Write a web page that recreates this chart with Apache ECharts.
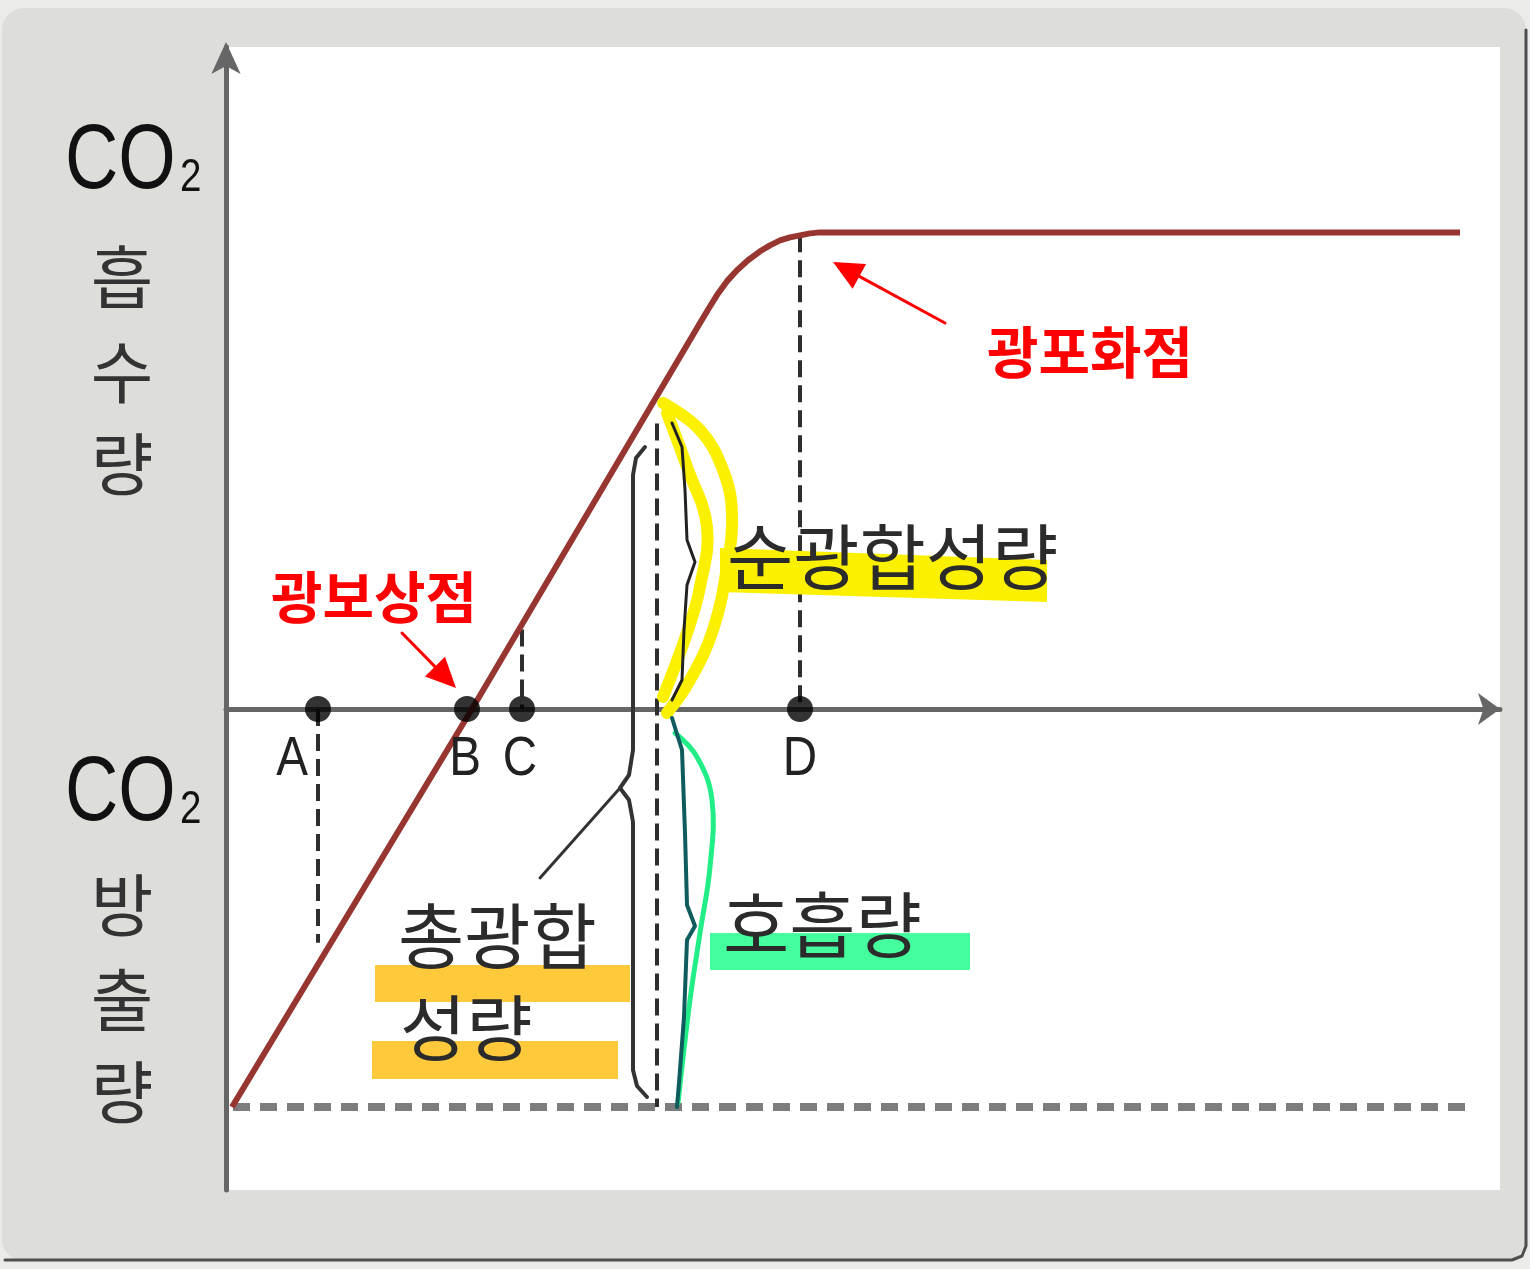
<!DOCTYPE html>
<html>
<head>
<meta charset="utf-8">
<script src="https://cdn.jsdelivr.net/npm/echarts@6/dist/echarts.min.js"></script>
<style>html,body{margin:0;padding:0;background:#ebebe8;}#c{width:1530px;height:1269px;}</style>
</head>
<body>
<div id="c"></div>
<script>
// ---- data (light intensity units vs CO2 exchange units) ----
const pointNames = ['A', 'B', 'C', 'D'];
const pointX = [9.2, 24.1, 29.6, 57.4];
const curveX = [0.6, 24.6, 47.4, 48.3, 49.1, 50.1, 51.1, 52.2, 53.4, 54.4, 55.4, 56.4, 57.4, 58.4, 59.4, 123.4];
const curveY = [-4.0, 0, 3.88, 4.03, 4.16, 4.30, 4.41, 4.51, 4.60, 4.66, 4.71, 4.74, 4.76, 4.78, 4.79, 4.79];
const respirationY = -4.0;
const respirationX = [0.7, 124.6];
const guideX = [9.2, 29.6, 57.4, 43.1];
const guideTop = [0, 0.8, 4.76, 2.87];
const guideBottom = [-2.35, 0, 0, -4.0];
const xRange = [0, 127.4];
const yRange = [-4.834, 6.653];

// ---- styling helpers ----
const labelDx = {A: -26, B: -2, C: -2, D: 0};
const G = [];
function rect(x, y, w, h, fill, z, r) {
  G.push({type: 'rect', z: z, shape: {x: x, y: y, width: w, height: h, r: r || 0}, style: {fill: fill}});
}
function poly(points, fill, z) {
  G.push({type: 'polygon', z: z, shape: {points: points}, style: {fill: fill}});
}
function line(points, stroke, width, z, smooth) {
  G.push({type: 'polyline', z: z, shape: {points: points, smooth: smooth || 0},
    style: {stroke: stroke, lineWidth: width, fill: null, lineCap: 'round', lineJoin: 'round'}});
}
function txt(x, y, text, size, opts) {
  opts = opts || {};
  G.push({type: 'text', x: x, y: y, z: opts.z || 30, scaleX: opts.scaleX || 1, style: {
    text: text, fontSize: size, fontFamily: opts.family || '"Noto Sans CJK KR"',
    fontWeight: opts.weight || 'normal', fill: opts.fill || '#2b2b2b',
    textAlign: opts.align || 'center', textVerticalAlign: 'middle'}});
}
function arrow(x1, y1, x2, y2, color) {
  const dx = x2 - x1, dy = y2 - y1, L = Math.hypot(dx, dy);
  const ux = dx / L, uy = dy / L, hl = 30, hw = 14;
  const bx = x2 - ux * hl, by = y2 - uy * hl;
  line([[x1, y1], [bx, by]], color, 3, 25);
  poly([[x2, y2], [bx + uy * hw, by - ux * hw], [bx - uy * hw, by + ux * hw]], color, 25);
}

// frame and plot background
rect(2, 8, 1524, 1253, '#dddeda', -10, 22);
line([[1526, 30], [1526, 1246], [1522, 1256], [1512, 1260], [5, 1260]], '#4f4f4f', 3, -9);
rect(226, 47, 1274, 1143, '#ffffff', -8);

// axis titles
const sans = '"Liberation Sans", Arial';
[[163, 178], [795, 810]].forEach(function (p) {
  txt(65, p[0], 'CO', 90, {family: sans, fill: '#111', align: 'left', scaleX: 0.82});
  txt(180, p[1], '2', 47, {family: sans, fill: '#111', align: 'left', scaleX: 0.82});
});
['흡', '수', '량'].forEach(function (ch, i) { txt(122, [277, 372, 464][i], ch, 68, {fill: '#333'}); });
['방', '출', '량'].forEach(function (ch, i) { txt(122, [905, 1000, 1092][i], ch, 68, {fill: '#333'}); });

// red annotations
txt(374, 597, '광보상점', 56, {weight: 'bold', fill: '#fe0000'});
arrow(402, 633, 456, 688, '#fe0000');
txt(1090, 352, '광포화점', 56, {weight: 'bold', fill: '#fe0000'});
arrow(945, 323, 833, 262, '#fe0000');

// highlights
poly([[720, 548], [1047, 560], [1047, 602], [720, 592]], '#fbf000', 12);
rect(710, 933, 260, 37, '#45ff9f', 12);
rect(375, 965, 255, 37, '#ffc93c', 12);
rect(372, 1041, 246, 38, '#ffc93c', 12);

// yellow brace (net photosynthesis)
line([[663, 403], [700, 430], [723, 470], [732, 513], [727, 567], [713, 630], [690, 680], [667, 713]], '#fbf000', 12, 11, 0.4);
line([[667, 413], [687, 467], [707, 527], [700, 587], [687, 633], [663, 697]], '#fbf000', 12, 11, 0.4);
line([[672, 423], [682, 447], [685, 490], [687, 540], [695, 562], [687, 585], [684, 630], [682, 680], [672, 700]], '#222', 3, 13);

// green brace (respiration)
line([[675, 733], [697, 757], [712, 800], [710, 867], [700, 933], [690, 1000], [678, 1103]], '#22ee88', 5, 11, 0.4);
line([[672, 718], [682, 750], [685, 833], [687, 905], [695, 926], [687, 940], [684, 1017], [679, 1083], [677, 1107]], '#0f5c5e', 4, 13);

// big brace (gross photosynthesis)
line([[645, 447], [636, 458], [633, 475], [633, 750], [629, 775], [620, 788], [629, 800], [633, 822], [633, 1070], [637, 1086], [647, 1097]], '#333', 4, 13);
line([[620, 788], [540, 878]], '#333', 3, 13);

// body labels
txt(727, 557, '순광합성량', 72, {align: 'left'});
txt(723, 925, '호흡량', 72, {align: 'left'});
txt(398, 936, '총광합', 72, {align: 'left'});
txt(400, 1028, '성량', 72, {align: 'left'});

// ---- series ----
const series = [];
series.push({
  type: 'line', z: 5, showSymbol: false, smooth: false,
  data: curveX.map(function (x, i) { return [x, curveY[i]]; }),
  lineStyle: {color: '#973630', width: 6, join: 'round'}
});
guideX.forEach(function (gx, i) {
  series.push({
    type: 'line', z: 3, showSymbol: false,
    data: [[gx, guideTop[i]], [gx, guideBottom[i]]],
    lineStyle: {color: '#2e2e2e', width: 4, type: [17, 8]}
  });
});
series.push({
  type: 'line', z: 3, showSymbol: false,
  data: respirationX.map(function (x) { return [x, respirationY]; }),
  lineStyle: {color: '#7d7d7d', width: 8, type: [17, 10]}
});
series.push({
  type: 'scatter', z: 6, symbolSize: 26,
  itemStyle: {color: '#000'},
  data: pointX.map(function (x, i) { return {value: [x, 0], name: pointNames[i]}; })
});

const baseOption = {
  animation: false,
  backgroundColor: '#ebebe8',
  grid: {left: 226, right: 30, top: 47, bottom: 79},
  xAxis: {
    type: 'value', min: xRange[0], max: xRange[1],
    axisLine: {onZero: true, lineStyle: {color: '#666', width: 5},
      symbol: ['none', 'arrow'], symbolSize: [24, 22], symbolOffset: [0, 0]},
    axisTick: {show: false}, axisLabel: {show: false}, splitLine: {show: false}
  },
  yAxis: {
    type: 'value', min: yRange[0], max: yRange[1],
    axisLine: {onZero: false, lineStyle: {color: '#666', width: 5},
      symbol: ['none', 'arrow'], symbolSize: [22, 32], symbolOffset: [0, 5]},
    axisTick: {show: false}, axisLabel: {show: false}, splitLine: {show: false}
  },
  series: series
};

const chart = echarts.init(document.getElementById('c'));
chart.setOption(baseOption);
// point letters placed through the axis scale
pointX.forEach(function (x, i) {
  const p = chart.convertToPixel({gridIndex: 0}, [x, 0]);
  txt(p[0] + labelDx[pointNames[i]], p[1] + 51, pointNames[i], 56,
    {family: sans, fill: '#222', scaleX: 0.85});
});
chart.setOption({graphic: {elements: G}});
</script>
</body>
</html>
